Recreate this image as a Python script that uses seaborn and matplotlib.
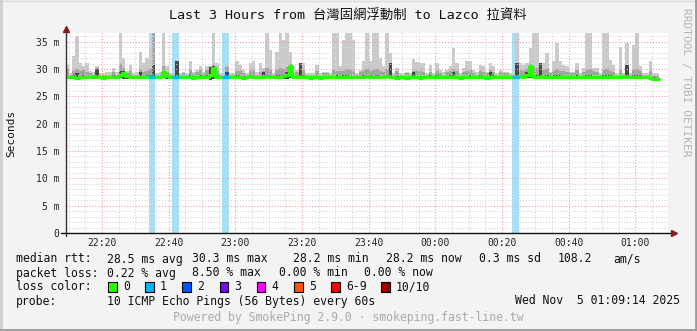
import matplotlib
matplotlib.use('Agg')
import matplotlib.pyplot as plt
import seaborn as sns
import numpy as np
import pandas as pd
from matplotlib.ticker import MultipleLocator, FixedLocator
from matplotlib.patches import Rectangle

sns.set_style('white')
MONO = ['DejaVu Sans Mono', 'Noto Sans CJK TC']
plt.rcParams['font.family'] = MONO

# ---------------- data (minutes after 22:00) ----------------
minutes = list(range(9, 187))

median = [
    28.5, 28.6, 28.5, 28.4, 28.6, 28.6, 28.5, 28.5, 28.7, 28.5,
    28.5, 28.4, 28.5, 28.5, 28.6, 28.5, 28.9, 29.3, 28.7, 28.6,
    28.5, 28.5, 28.6, 28.5, 28.5, 28.6, 28.6, 28.5, 28.5, 29.4,
    28.7, 28.5, 28.6, 28.6, 28.5, 28.5, 28.6, 28.5, 28.4, 28.5,
    28.6, 28.5, 28.6, 28.9, 30.2, 28.6, 28.5, 28.6, 28.6, 28.5,
    28.5, 28.6, 28.5, 28.4, 28.5, 28.7, 28.5, 28.6, 28.5, 28.6,
    28.7, 28.5, 28.5, 28.6, 28.6, 28.8, 29.0, 30.6, 28.6, 28.5,
    28.6, 28.5, 28.5, 28.4, 28.5, 28.5, 28.4, 28.5, 28.6, 28.5,
    28.5, 28.6, 28.5, 28.6, 28.6, 28.5, 28.5, 28.6, 28.5, 28.6,
    28.7, 28.6, 28.5, 28.6, 28.5, 28.6, 28.7, 28.6, 28.5, 28.4,
    28.5, 28.5, 28.4, 28.5, 28.6, 28.5, 28.4, 28.5, 28.5, 28.6,
    28.5, 28.6, 28.5, 28.6, 28.5, 28.6, 28.5, 28.5, 28.4, 28.5,
    28.5, 28.6, 28.5, 28.6, 28.5, 28.5, 28.4, 28.5, 28.6, 28.5,
    28.5, 28.6, 28.5, 28.5, 28.6, 28.6, 28.7, 28.6, 28.9, 30.5,
    28.6, 28.5, 28.6, 28.5, 28.6, 28.5, 28.6, 28.5, 28.6, 28.5,
    28.5, 28.6, 28.5, 28.6, 28.5, 28.5, 28.6, 28.5, 28.5, 28.5,
    28.6, 28.5, 28.6, 28.5, 28.5, 28.6, 28.5, 28.7, 28.5, 28.6,
    28.5, 28.6, 28.6, 28.5, 28.5, 28.3, 28.2, 28.2,
]

smoke_max = [
    30.8, 29.2, 32.4, 36.0, 31.1, 30.5, 31.1, 29.7, 29.4, 30.6,
    29.2, 29.2, 29.4, 29.4, 30.2, 29.4, 37.5, 32.0, 29.7, 30.8,
    29.2, 29.4, 33.2, 31.1, 32.0, 34.0, 37.5, 29.2, 29.4, 37.5,
    30.5, 29.3, 29.2, 31.4, 29.2, 29.5, 29.2, 31.4, 29.5, 29.9,
    30.6, 29.5, 30.5, 30.6, 37.5, 31.1, 29.2, 29.2, 31.0, 29.2,
    29.2, 31.4, 30.8, 29.9, 29.2, 31.1, 31.4, 29.4, 31.1, 30.2,
    37.5, 33.5, 29.2, 33.2, 37.5, 35.3, 37.5, 33.2, 29.2, 29.9,
    31.1, 31.1, 29.2, 29.2, 29.2, 30.8, 29.2, 29.5, 29.5, 29.2,
    37.5, 37.5, 30.5, 35.3, 37.5, 37.5, 35.3, 29.2, 29.9, 31.4,
    37.5, 31.4, 37.5, 37.5, 32.0, 30.5, 37.5, 32.9, 29.2, 30.2,
    29.2, 29.2, 29.5, 29.2, 31.8, 31.3, 31.1, 31.1, 29.2, 30.8,
    29.2, 31.1, 29.9, 29.4, 29.9, 30.5, 33.8, 31.1, 29.2, 30.2,
    31.4, 31.4, 29.8, 29.4, 30.8, 30.5, 29.5, 31.1, 30.6, 29.2,
    29.9, 29.5, 29.5, 29.2, 29.2, 37.5, 31.1, 30.8, 31.1, 33.8,
    37.5, 37.5, 31.1, 31.1, 32.9, 29.5, 31.4, 34.7, 31.4, 30.8,
    30.5, 29.5, 29.5, 31.1, 29.2, 30.2, 37.5, 37.5, 30.2, 30.2,
    29.2, 37.5, 37.5, 31.7, 30.8, 29.2, 34.1, 29.2, 34.7, 29.2,
    34.4, 37.5, 30.5, 29.2, 29.2, 31.4, 29.2, 29.2,
]

smoke_mid = [
    30.0, 29.0, 29.6, 30.0, 29.6, 29.8, 29.4, 29.2, 29.0, 30.2,
    29.0, 28.9, 29.0, 29.0, 29.4, 29.0, 31.0, 30.2, 29.2, 29.6,
    28.9, 29.0, 29.8, 29.5, 29.6, 30.0, 37.5, 28.9, 29.0, 30.5,
    29.5, 29.0, 29.0, 31.4, 28.9, 29.2, 28.9, 29.8, 29.1, 29.4,
    29.8, 29.1, 29.8, 30.4, 30.8, 29.6, 28.9, 28.9, 30.4, 28.9,
    28.9, 29.6, 29.6, 29.3, 28.9, 29.6, 29.8, 29.0, 29.4, 29.6,
    30.2, 29.8, 28.9, 29.8, 30.2, 30.0, 30.4, 31.0, 28.9, 29.4,
    30.5, 29.8, 28.9, 28.9, 29.0, 29.6, 28.9, 29.2, 29.2, 28.9,
    29.8, 29.6, 29.6, 29.6, 30.0, 29.8, 29.6, 28.9, 29.4, 29.6,
    30.0, 29.6, 29.8, 30.0, 29.6, 29.4, 30.0, 31.1, 28.9, 29.6,
    28.9, 28.9, 29.2, 28.9, 29.6, 29.6, 29.6, 29.4, 28.9, 29.4,
    28.9, 29.6, 29.3, 29.0, 29.4, 29.6, 30.0, 29.6, 28.9, 29.4,
    29.6, 29.8, 29.3, 29.0, 29.6, 29.5, 29.2, 29.8, 29.4, 28.9,
    29.4, 29.2, 29.2, 28.9, 28.9, 31.1, 29.8, 29.6, 30.0, 31.0,
    30.4, 30.2, 31.1, 29.8, 30.0, 29.2, 29.6, 30.0, 29.6, 29.6,
    29.4, 29.2, 29.2, 29.8, 28.9, 29.4, 29.8, 30.0, 29.6, 29.4,
    28.9, 29.8, 30.0, 29.6, 29.4, 28.9, 29.8, 28.9, 30.8, 28.9,
    29.8, 30.0, 29.6, 28.9, 28.9, 29.6, 28.9, 28.8,
]

smoke_dark = [
    28.8, 28.8, 28.9, 29.2, 28.8, 28.9, 28.8, 28.8, 28.9, 30.0,
    28.8, 28.7, 28.8, 28.8, 28.9, 28.8, 29.6, 29.7, 28.9, 28.8,
    28.7, 28.8, 29.4, 28.8, 28.9, 28.9, 30.8, 28.8, 28.8, 29.6,
    28.9, 28.8, 28.8, 31.4, 28.7, 28.8, 28.8, 28.9, 28.7, 28.8,
    28.9, 28.8, 29.0, 30.4, 30.6, 28.9, 28.7, 28.8, 29.4, 28.7,
    28.7, 28.9, 28.8, 28.7, 28.7, 28.9, 28.9, 28.8, 28.8, 29.4,
    29.0, 28.8, 28.7, 28.9, 28.9, 29.0, 29.4, 30.8, 28.8, 28.7,
    31.1, 28.9, 28.7, 28.6, 28.7, 28.8, 28.6, 28.7, 28.8, 28.7,
    28.8, 28.9, 28.8, 28.9, 28.9, 28.8, 28.8, 28.8, 28.7, 28.9,
    29.0, 28.9, 28.8, 28.9, 28.8, 28.8, 29.0, 31.1, 28.7, 28.7,
    28.7, 28.7, 28.6, 28.7, 29.4, 28.8, 28.7, 28.8, 28.7, 28.9,
    28.7, 28.9, 28.8, 28.8, 28.8, 28.9, 29.4, 28.8, 28.6, 28.8,
    28.8, 28.9, 28.8, 28.8, 28.9, 28.8, 28.6, 29.4, 28.9, 28.7,
    28.8, 28.8, 28.7, 28.7, 28.8, 31.1, 29.0, 28.9, 29.4, 30.8,
    29.0, 28.9, 31.1, 28.8, 28.9, 28.7, 28.9, 28.9, 28.9, 28.8,
    28.8, 28.8, 28.7, 28.9, 28.7, 28.8, 29.0, 29.0, 28.8, 28.8,
    28.8, 29.0, 28.9, 28.9, 28.8, 28.8, 28.8, 28.9, 30.8, 28.8,
    28.9, 29.0, 28.9, 28.7, 28.7, 28.6, 28.5, 28.4,
]

smoke_min = [
    28.2, 28.3, 28.1, 28.2, 28.3, 28.2, 28.2, 28.3, 28.2, 28.2,
    28.3, 28.2, 28.2, 28.3, 28.2, 28.2, 28.3, 28.2, 28.2, 28.3,
    28.2, 28.3, 28.2, 28.2, 28.3, 28.2, 28.2, 28.3, 28.2, 28.3,
    28.2, 28.2, 28.3, 28.2, 28.2, 28.3, 28.2, 28.2, 28.1, 28.2,
    28.3, 28.2, 28.2, 28.0, 28.2, 28.3, 28.2, 28.2, 28.3, 28.2,
    28.2, 28.3, 28.2, 28.1, 28.2, 28.3, 28.2, 28.2, 28.3, 28.2,
    28.3, 28.2, 28.2, 28.3, 28.2, 28.2, 28.1, 28.3, 28.2, 28.2,
    28.3, 28.2, 28.2, 28.1, 28.2, 28.3, 28.1, 28.2, 28.2, 28.2,
    28.2, 28.3, 28.2, 28.2, 28.3, 28.2, 28.2, 28.3, 28.2, 28.3,
    28.3, 28.2, 28.2, 28.3, 28.2, 28.2, 28.3, 28.2, 28.2, 28.1,
    28.2, 28.2, 28.1, 28.2, 28.3, 28.2, 28.1, 28.2, 28.2, 28.3,
    28.2, 28.3, 28.2, 28.2, 28.2, 28.3, 28.2, 28.2, 28.1, 28.2,
    28.2, 28.3, 28.2, 28.2, 28.2, 28.2, 28.1, 28.2, 28.3, 28.2,
    28.2, 28.3, 28.2, 28.2, 28.3, 28.3, 28.3, 28.2, 28.4, 28.3,
    28.3, 28.2, 28.3, 28.2, 28.3, 28.2, 28.3, 28.2, 28.3, 28.2,
    28.2, 28.3, 28.2, 28.3, 28.2, 28.2, 28.3, 28.2, 28.2, 28.2,
    28.3, 28.2, 28.3, 28.2, 28.2, 28.3, 28.2, 28.3, 28.2, 28.3,
    28.2, 28.3, 28.3, 28.2, 28.2, 28.0, 27.9, 27.9,
]

loss_minutes = [34, 35, 41, 42, 56, 57, 143, 144]
loss_counts = [1, 1, 1, 1, 1, 1, 1, 1]

tick_minutes = [20, 40, 60, 80, 100, 120, 140, 160, 180]
tick_labels = ['22:20', '22:40', '23:00', '23:20', '23:40', '00:00', '00:20', '00:40', '01:00']
y_ticks = [0, 5, 10, 15, 20, 25, 30, 35]
y_labels = ['0', '5 m', '10 m', '15 m', '20 m', '25 m', '30 m', '35 m']

loss_legend = ['0', '1', '2', '3', '4', '5', '6-9', '10/10']
loss_colors = ['#26ff00', '#00b8ff', '#0059ff', '#7e00ff', '#ff00ff', '#ff5500', '#ff0000', '#a10000']

stats_rtt = [('median rtt:', 16), ('28.5 ms avg', 107), ('30.3 ms max', 192), ('28.2 ms min', 293),
             ('28.2 ms now', 386), ('0.3 ms sd', 479), ('108.2', 558), ('am/s', 613)]
stats_loss = [('packet loss:', 16), ('0.22 % avg', 107), ('8.50 % max', 192),
              ('0.00 % min', 279), ('0.00 % now', 364)]

# ---------------- figure ----------------
W, H = 697, 331
fig = plt.figure(figsize=(W / 100, H / 100), dpi=100, facecolor='#f3f3f3')
L, R, T, B = 66, 668, 33, 233
ax = fig.add_axes([L / W, (H - B) / H, (R - L) / W, (B - T) / H])
ax.set_facecolor('white')

XMIN, XMAX = 9.2, 189.8
ax.set_xlim(XMIN, XMAX)
ax.set_ylim(0, 36.6)

df = pd.DataFrame({'minute': minutes, 'median': median, 'max': smoke_max,
                   'mid': smoke_mid, 'dark': smoke_dark, 'min': smoke_min})

# loss background
ax.bar(loss_minutes, [36.6] * len(loss_minutes), width=1, align='edge',
       color='#a4e0f9', linewidth=0, zorder=1)

# smoke
ax.bar(df['minute'], df['max'] - df['min'], bottom=df['min'], width=1, align='edge',
       color='#cacaca', linewidth=0, zorder=2)
ax.bar(df['minute'], df['mid'] - df['min'], bottom=df['min'], width=1, align='edge',
       color='#a2a2a2', linewidth=0, zorder=2)
ax.bar(df['minute'], df['dark'] - df['min'], bottom=df['min'], width=1, align='edge',
       color='#474747', linewidth=0, zorder=2)

# grid
minor_c, major_c = '#d6d6d6', '#f0a0a0'
ls = (0, (1.0, 1.6))
for m in range(10, 190, 5):
    if m % 20:
        ax.axvline(m, color=minor_c, lw=0.8, ls=ls, zorder=3)
for m in tick_minutes:
    ax.axvline(m, color=major_c, lw=0.8, ls=ls, zorder=3)
for v in range(1, 37):
    if v % 5:
        ax.axhline(v, color=minor_c, lw=0.8, ls=ls, zorder=3)
for v in y_ticks[1:]:
    ax.axhline(v, color=major_c, lw=0.8, ls=ls, zorder=3)

# median line (extend last step)
line_df = pd.DataFrame({'minute': minutes + [minutes[-1] + 1], 'median': median + [median[-1]]})
sns.lineplot(data=line_df, x='minute', y='median', ax=ax, color=loss_colors[0],
             lw=2.3, drawstyle='steps-post', estimator=None, zorder=4)
med_map = dict(zip(minutes, median))
for m, c in zip(loss_minutes, loss_counts):
    ax.hlines(med_map[m], m, m + 1, color=loss_colors[c], lw=2.3, zorder=5)

# axes styling
for s in ax.spines.values():
    s.set_visible(False)
ax.set_xlabel('')
ax.set_ylabel('')
ax.xaxis.set_major_locator(FixedLocator(tick_minutes))
ax.set_xticklabels(tick_labels)
ax.xaxis.set_minor_locator(FixedLocator([m for m in range(10, 190, 5) if m % 20]))
ax.yaxis.set_major_locator(FixedLocator(y_ticks))
ax.set_yticklabels(y_labels)
ax.yaxis.set_minor_locator(FixedLocator([v for v in range(1, 37) if v % 5]))
ax.tick_params(axis='both', which='major', length=3, width=0.8, color='#e06060',
               labelsize=7, labelcolor='#222222', direction='inout')
ax.tick_params(axis='both', which='minor', length=2, width=0.8, color='#999999', direction='inout')
ax.tick_params(axis='x', which='major', pad=2)
ax.tick_params(axis='y', which='major', pad=3)

# axis lines with arrows
ax.plot([0, 0], [-0.015, 1.015], transform=ax.transAxes, color='#333333', lw=1, clip_on=False, zorder=6)
ax.plot([-0.008, 1.006], [0, 0], transform=ax.transAxes, color='#111111', lw=1, clip_on=False, zorder=6)
ax.plot([0], [1.02], transform=ax.transAxes, marker='^', color='#8b1a1a', ms=5, clip_on=False, zorder=7)
ax.plot([1.010], [0], transform=ax.transAxes, marker='>', color='#8b1a1a', ms=5, clip_on=False, zorder=7)


def P(x, y):
    return x / W, 1 - y / H


fs = 8.3
fig.text(*P(348, 15), 'Last 3 Hours from 台灣固網浮動制 to Lazco 拉資料', ha='center', va='center',
         fontsize=9.6, color='#111111', family=MONO)
fig.text(*P(11, 133), 'Seconds', rotation=90, ha='center', va='center', fontsize=8, color='#111111')
fig.text(*P(686, 82), 'RRDTOOL / TOBI OETIKER', rotation=270, ha='center', va='center',
         fontsize=8, color='#b4b4b4')

for txt, x in stats_rtt:
    fig.text(*P(x, 259), txt, ha='left', va='center', fontsize=fs, color='#111111')
for txt, x in stats_loss:
    fig.text(*P(x, 273), txt, ha='left', va='center', fontsize=fs, color='#111111')
fig.text(*P(16, 287), 'loss color:', ha='left', va='center', fontsize=fs, color='#111111')
box_x = [108, 145, 182, 219.5, 256.5, 294, 331, 381]
for lbl, col, bx in zip(loss_legend, loss_colors, box_x):
    fig.patches.append(Rectangle(P(bx, 292), 8.5 / W, 10 / H, transform=fig.transFigure,
                                 facecolor=col, edgecolor='#000000', lw=0.8))
    fig.text(*P(bx + 15, 287), lbl, ha='left', va='center', fontsize=fs, color='#111111')
fig.text(*P(16, 301), 'probe:', ha='left', va='center', fontsize=fs, color='#111111')
fig.text(*P(107, 301), '10 ICMP Echo Pings (56 Bytes) every 60s', ha='left', va='center',
         fontsize=fs, color='#111111')
fig.text(*P(680, 301), 'Wed Nov  5 01:09:14 2025', ha='right', va='center', fontsize=fs, color='#111111')
fig.text(*P(348, 318), 'Powered by SmokePing 2.9.0 · smokeping.fast-line.tw', ha='center', va='center',
         fontsize=fs, color='#aaaaaa')

# frame border
fig.add_artist(plt.Line2D([0, 1], [1 - 0.5 / H, 1 - 0.5 / H], transform=fig.transFigure, color='#dcdcdc', lw=1))
fig.add_artist(plt.Line2D([1 / W, 1 / W], [0, 1], transform=fig.transFigure, color='#cfcfcf', lw=2))
fig.add_artist(plt.Line2D([0, 1], [1.5 / H, 1.5 / H], transform=fig.transFigure, color='#9c9c9c', lw=2))
fig.add_artist(plt.Line2D([1 - 1.5 / W, 1 - 1.5 / W], [0, 1], transform=fig.transFigure, color='#9c9c9c', lw=2))

fig.savefig('out.png', dpi=100, facecolor=fig.get_facecolor())
